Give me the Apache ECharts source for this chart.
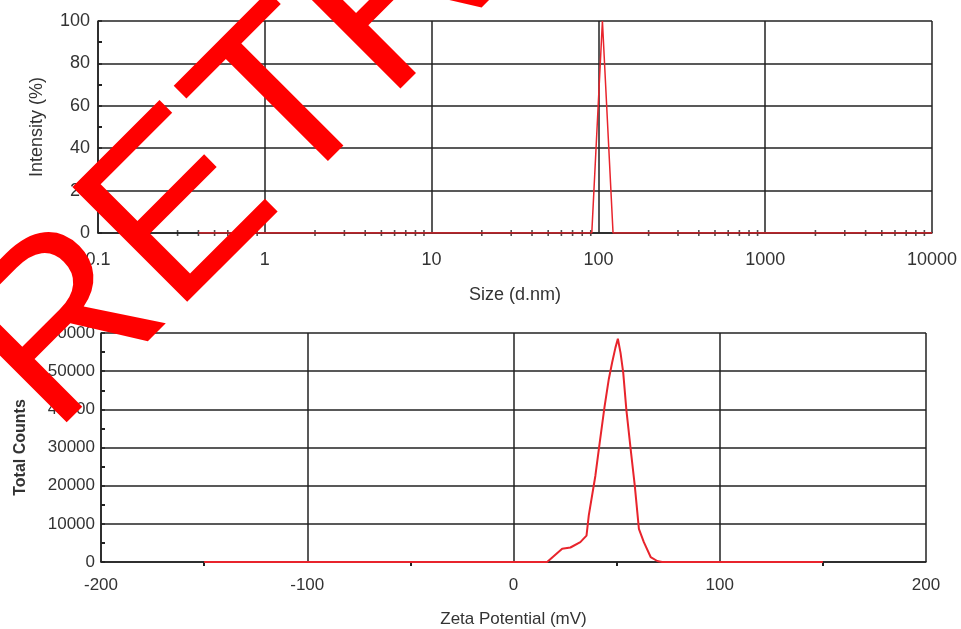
<!DOCTYPE html>
<html><head><meta charset="utf-8">
<script src="https://cdn.jsdelivr.net/npm/echarts@6/dist/echarts.min.js"></script>
<style>html,body{margin:0;padding:0;background:#fff}#c{width:961px;height:629px}</style>
</head><body><div id="c"></div>
<script>
// ---- Size distribution (top) ----
const sizeNm = [0.4, 78.82, 91.28, 105.7, 122.4, 141.8, 10000];
const intensityPct = [0, 0, 0, 100, 0, 0, 0];
const sizeMinorTicks = [0.2,0.3,0.4,0.5,0.6,0.7,0.8,0.9, 2,3,4,5,6,7,8,9, 20,30,40,50,60,70,80,90,
  200,300,400,500,600,700,800,900, 2000,3000,4000,5000,6000,7000,8000,9000];
// ---- Zeta potential (bottom) ----
const zetaMv = [-150, 16.3, 23.6, 27.6, 32.4, 35.4, 36.5, 39.7, 41.8, 44.1, 46.2, 47.8, 49.4, 50.6,
  51.9, 53.2, 54.7, 56.8, 58.8, 60.8, 63.2, 66.5, 69.7, 72, 150];
const totalCounts = [0, 0, 3500, 3800, 5200, 6900, 12200, 22600, 31300, 40500, 47900, 52200, 56100, 58500,
  54800, 49600, 40000, 29600, 20000, 8700, 5200, 1300, 260, 0, 0];
const watermarkText = 'RETRACTED';

const FONT = 'Liberation Sans, Arial, sans-serif';
const gridLine = { show: true, lineStyle: { color: '#222', width: 1.5 } };
const axisLine = { show: true, onZero: false, lineStyle: { color: '#222', width: 1.5 } };
const lbl = (size, margin) => ({ color: '#333', fontSize: size, fontFamily: FONT, margin: margin, formatter: v => String(v) });

const chart = echarts.init(document.getElementById('c'), null, { renderer: 'canvas' });
chart.setOption({
  animation: false,
  backgroundColor: '#fff',
  grid: [
    { left: 98, top: 21, width: 834, height: 212 },
    { left: 101, top: 333, width: 825, height: 230 }
  ],
  xAxis: [
    { gridIndex: 0, type: 'log', logBase: 10, min: 0.1, max: 10000,
      name: 'Size (d.nm)', nameLocation: 'middle', nameGap: 53,
      nameTextStyle: { color: '#333', fontSize: 18, fontFamily: FONT },
      axisLine: axisLine, axisTick: { show: false }, splitLine: gridLine,
      axisLabel: lbl(18, 18) },
    { gridIndex: 1, type: 'value', min: -200, max: 200, interval: 100,
      name: 'Zeta Potential (mV)', nameLocation: 'middle', nameGap: 49,
      nameTextStyle: { color: '#333', fontSize: 17, fontFamily: FONT },
      axisLine: axisLine, axisTick: { show: false },
      minorTick: { show: true, splitNumber: 2, length: 4, lineStyle: { color: '#222', width: 2 } },
      splitLine: gridLine, axisLabel: lbl(17, 15) }
  ],
  yAxis: [
    { gridIndex: 0, type: 'value', min: 0, max: 100, interval: 20,
      name: 'Intensity (%)', nameLocation: 'middle', nameGap: 52,
      nameTextStyle: { color: '#333', fontSize: 18, fontFamily: FONT },
      axisLine: axisLine, axisTick: { show: true, inside: true, length: 4, lineStyle: { color: '#222', width: 1.5 } },
      minorTick: { show: true, splitNumber: 2, length: 4, lineStyle: { color: '#222', width: 2 } },
      splitLine: gridLine, axisLabel: lbl(18, 8) },
    { gridIndex: 1, type: 'value', min: 0, max: 60000, interval: 10000,
      name: 'Total Counts', nameLocation: 'middle', nameGap: 72,
      nameTextStyle: { color: '#333', fontSize: 16, fontWeight: 'bold', fontFamily: FONT },
      axisLine: axisLine, axisTick: { show: true, inside: true, length: 4, lineStyle: { color: '#222', width: 1.5 } },
      minorTick: { show: true, splitNumber: 2, length: 4, lineStyle: { color: '#222', width: 2 } },
      splitLine: gridLine, axisLabel: lbl(17, 6) }
  ],
  series: [
    { type: 'scatter', xAxisIndex: 0, yAxisIndex: 0, silent: true, z: 3,
      symbol: 'rect', symbolSize: [1.6, 6], itemStyle: { color: '#222' },
      data: sizeMinorTicks.map(v => [v, 0]) },
    { type: 'line', xAxisIndex: 0, yAxisIndex: 0, showSymbol: false, silent: true, z: 4,
      lineStyle: { color: '#e8242c', width: 1.5 },
      data: sizeNm.map((s, i) => [s, intensityPct[i]]) },
    { type: 'line', xAxisIndex: 1, yAxisIndex: 1, showSymbol: false, silent: true, z: 4,
      lineStyle: { color: '#e8242c', width: 2 },
      data: zetaMv.map((z, i) => [z, totalCounts[i]]) }
  ],
  graphic: [
    { type: 'text', x: 7, y: 390, rotation: Math.PI / 4, z: 100, silent: true,
      style: { text: watermarkText, fill: '#ff0000', font: '236px "Liberation Sans"',
               align: 'left', verticalAlign: 'middle' } }
  ]
});
</script>
</body></html>
